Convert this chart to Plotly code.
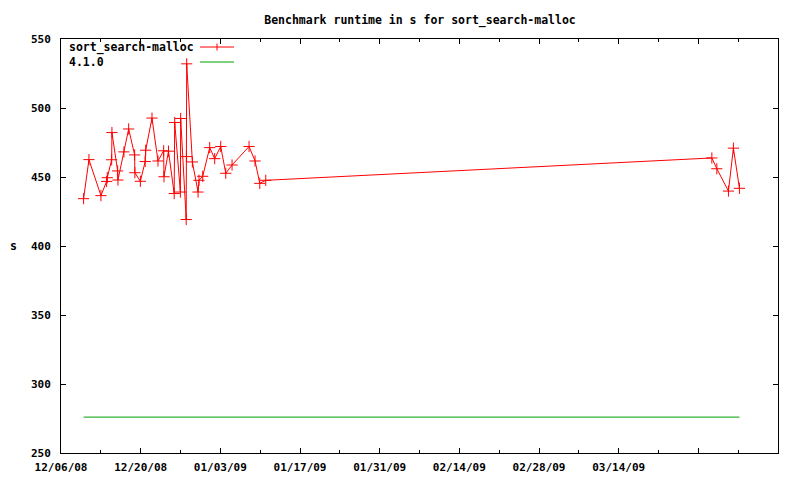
import plotly.graph_objects as go

# ---- data ----
run_dates = [
    "2008-12-09 23:15", "2008-12-10 21:50", "2008-12-13 00:30", "2008-12-14 00:30",
    "2008-12-14 03:20", "2008-12-14 21:40", "2008-12-14 22:50", "2008-12-15 22:50",
    "2008-12-16 00:15", "2008-12-17 01:25", "2008-12-17 21:20", "2008-12-18 22:35",
    "2008-12-18 23:30", "2008-12-19 22:50", "2008-12-20 19:00", "2008-12-20 21:10",
    "2008-12-21 23:45", "2008-12-23 01:00", "2008-12-24 01:00", "2008-12-24 02:20",
    "2008-12-24 21:20", "2008-12-25 21:20", "2008-12-25 23:30", "2008-12-26 23:30",
    "2008-12-27 00:45", "2008-12-28 00:00", "2008-12-28 01:00", "2008-12-28 02:10",
    "2008-12-29 02:10", "2008-12-30 02:00", "2008-12-30 06:00", "2008-12-30 21:40",
    "2009-01-01 03:10", "2009-01-02 00:15", "2009-01-03 01:40", "2009-01-03 22:50",
    "2009-01-05 01:25", "2009-01-08 01:10", "2009-01-09 02:25", "2009-01-09 22:20",
    "2009-01-10 23:30", "2009-03-30 09:00", "2009-03-31 06:00", "2009-04-02 07:00",
    "2009-04-03 04:00", "2009-04-04 05:20",
]
runtime_s = [
    434.3, 462.6, 436.5, 446.8, 449.5, 462.5, 482.2, 454.4,
    447.8, 468.2, 484.8, 466.0, 453.1, 446.9, 461.2, 469.4,
    492.7, 461.6, 469.0, 450.2, 468.7, 438.0, 489.5, 439.1,
    492.4, 419.2, 464.8, 532.0, 460.9, 439.1, 447.6, 450.5,
    471.3, 463.3, 472.1, 452.7, 458.7, 472.1, 461.6, 445.4,
    447.6, 463.8, 456.0, 439.8, 470.9, 441.8,
]
ref_dates = ["2008-12-09 23:15", "2009-04-04 05:20"]
ref_values = [276.0, 276.0]

tick_dates = ["2008-12-06", "2008-12-20", "2009-01-03", "2009-01-17", "2009-01-31",
              "2009-02-14", "2009-02-28", "2009-03-14", "2009-03-28"]
tick_labels = ["12/06/08", "12/20/08", "01/03/09", "01/17/09", "01/31/09",
               "02/14/09", "02/28/09", "03/14/09", ""]
y_ticks = [250, 300, 350, 400, 450, 500, 550]

FONT = "DejaVu Sans Mono"
RED = "#ff0000"
GREEN = "#00a000"

# page body has an 8px margin; lay the figure out in screen pixels minus that offset
OFF = 8
W, H = 800 - OFF, 480 - OFF
SL, SR, ST, SB = 61, 778, 39, 453          # plot box in screen pixels
ML, MR, MT, MB = SL - OFF, W - (SR - OFF), ST - OFF, H - (SB - OFF)
PW, PH = SR - SL, SB - ST

def px(x):
    return (x - SL) / PW

def py(y):
    return 1 - (y - ST) / PH

fig = go.Figure()
fig.add_trace(go.Scatter(
    x=run_dates, y=runtime_s, mode="lines+markers", name="sort_search-malloc",
    line=dict(color=RED, width=1),
    marker=dict(symbol="cross-thin", size=8, color=RED, line=dict(color=RED, width=1)),
    showlegend=False,
))
fig.add_trace(go.Scatter(
    x=ref_dates, y=ref_values, mode="lines", name="4.1.0",
    line=dict(color=GREEN, width=1), showlegend=False,
))

annotations = [
    dict(text="<b>sort_search-malloc</b>", x=px(67), y=py(48), xref="paper", yref="paper",
         xanchor="left", yanchor="middle", showarrow=False, font=dict(family=FONT, size=11.5, color="black")),
    dict(text="<b>4.1.0</b>", x=px(67), y=py(62), xref="paper", yref="paper",
         xanchor="left", yanchor="middle", showarrow=False, font=dict(family=FONT, size=11.5, color="black")),
    dict(text="<b>s</b>", x=px(13), y=py(246), xref="paper", yref="paper",
         xanchor="center", yanchor="middle", showarrow=False, font=dict(family=FONT, size=11.5, color="black")),
]
shapes = [
    dict(type="line", xref="paper", yref="paper", x0=px(200), x1=px(234), y0=py(47), y1=py(47),
         line=dict(color=RED, width=1)),
    dict(type="line", xref="paper", yref="paper", x0=px(217), x1=px(217), y0=py(43.5), y1=py(50.5),
         line=dict(color=RED, width=1)),
    dict(type="line", xref="paper", yref="paper", x0=px(200), x1=px(234), y0=py(62), y1=py(62),
         line=dict(color=GREEN, width=1)),
]

fig.update_layout(
    width=W, height=H,
    margin=dict(l=ML, r=MR, t=MT, b=MB, pad=0, autoexpand=False),
    paper_bgcolor="white", plot_bgcolor="white",
    font=dict(family=FONT, size=11, color="black"),
    title=dict(text="<b>Benchmark runtime in s for sort_search-malloc</b>",
               x=px(420), xanchor="center", xref="paper",
               y=1 - (19.5 - OFF) / H, yanchor="middle",
               font=dict(family=FONT, size=11.5, color="black")),
    annotations=annotations, shapes=shapes,
    xaxis=dict(
        type="date", range=["2008-12-06", "2009-04-11"], automargin=False,
        tickmode="array", tickvals=tick_dates,
        ticktext=[f"<b>{t}</b>" if t else "" for t in tick_labels],
        ticks="inside", ticklen=5, tickcolor="black", tickwidth=1,
        showline=True, linecolor="black", linewidth=1, mirror="ticks",
        showgrid=False, zeroline=False, ticklabelstandoff=4,
        minor=dict(ticks="inside", ticklen=3, dtick=7 * 86400000, tick0="2008-12-13",
                   tickcolor="black", showgrid=False),
        tickfont=dict(family=FONT, size=11, color="black"),
    ),
    yaxis=dict(
        range=[250, 550], tickmode="array", tickvals=y_ticks, automargin=False,
        ticktext=[f"<b>{v}</b>" for v in y_ticks],
        ticks="inside", ticklen=5, tickcolor="black", tickwidth=1,
        showline=True, linecolor="black", linewidth=1, mirror="ticks",
        showgrid=False, zeroline=False, ticklabelstandoff=7,
        tickfont=dict(family=FONT, size=11, color="black"),
    ),
)

fig.write_html("out.html")
